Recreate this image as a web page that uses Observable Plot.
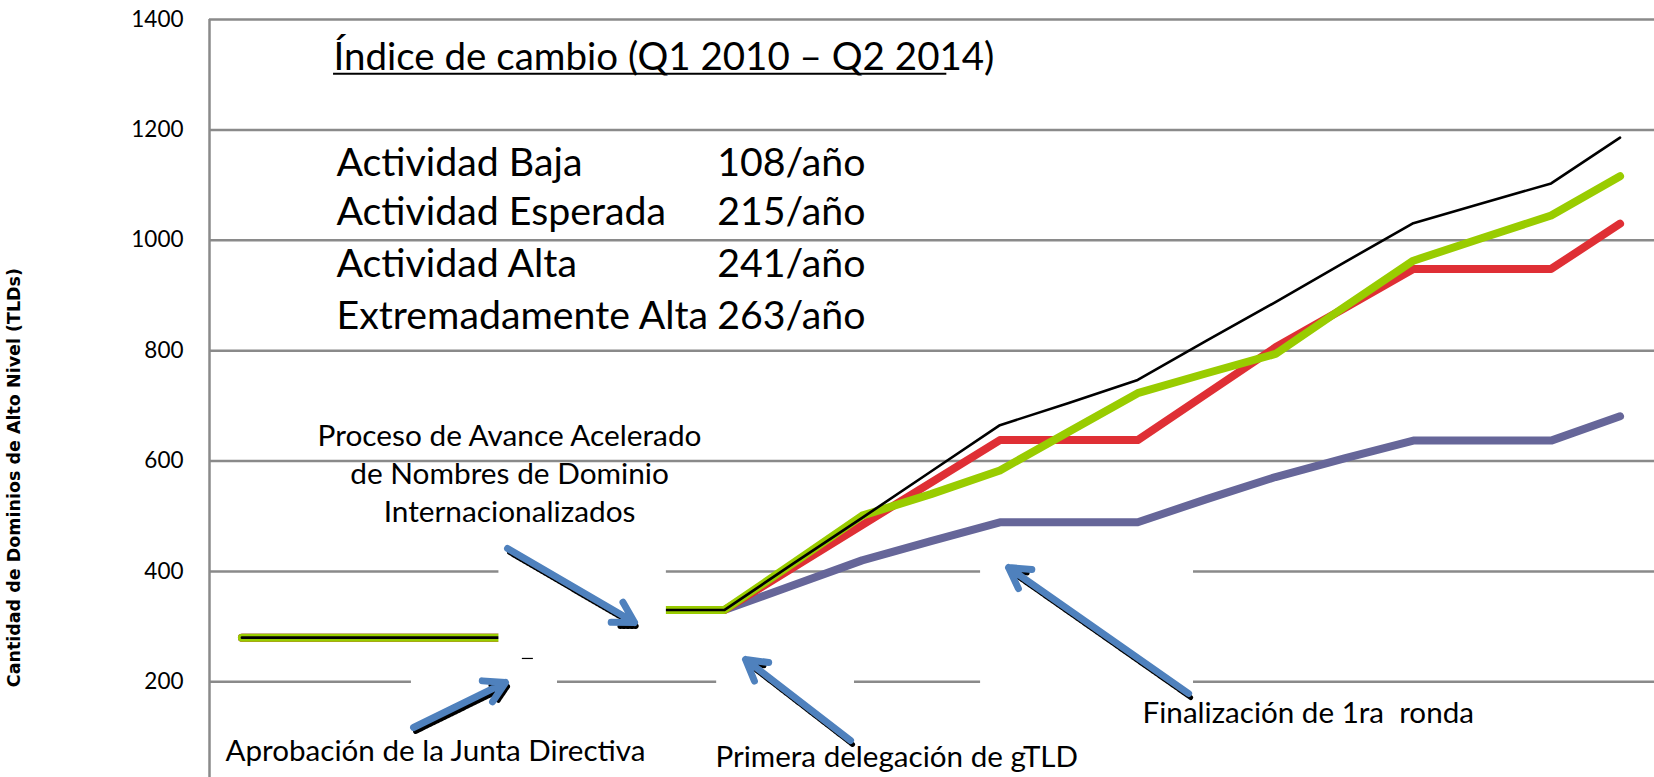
<!DOCTYPE html>
<html>
<head>
<meta charset="utf-8">
<script src="https://cdn.jsdelivr.net/npm/d3@7"></script>
<script src="https://cdn.jsdelivr.net/npm/@observablehq/plot@0.6"></script>
<style>
  html, body { margin: 0; padding: 0; background: #fff; overflow: hidden; }
  #chart svg { display: block; }
</style>
</head>
<body>
<div id="chart"></div>
<script>
// ---- data ----
const quarter = [0, 1, 2, 3, 4, 5, 6, 7, 8, 9, 10, 11, 12, 13, 14, 15, 16, 17, 18, 19, 20];
const actividadBaja       = [280, 280, 280, 280, 280, 305, 330, 330, 375, 420, 455, 489, 489, 489, 531, 571, 605, 637, 637, 637, 681];
const actividadEsperada   = [280, 280, 280, 280, 280, 305, 330, 330, 407, 484, 561, 638, 638, 638, 722, 806, 877, 948, 948, 948, 1030];
const actividadAlta       = [280, 280, 280, 280, 280, 305, 330, 330, 415, 501, 540, 583, 653, 723, 759, 794, 879, 963, 1004, 1045, 1116];
const extremadamenteAlta  = [280, 280, 280, 280, 280, 305, 330, 330, 414, 497, 581, 665, 705, 747, 818, 888, 960, 1031, 1067, 1103, 1186];
const yTicks = [200, 400, 600, 800, 1000, 1200, 1400];

const titleText = "Índice de cambio (Q1 2010 – Q2 2014)";
const rateLabels = ["Actividad Baja", "Actividad Esperada", "Actividad Alta", "Extremadamente Alta"];
const rateValues = ["108/año", "215/año", "241/año", "263/año"];
const yLabel = "Cantidad de Dominios de Alto Nivel (TLDs)";

// annotation anchors, in data units (quarter index, TLD count)
const procesoLines = ["Proceso de Avance Acelerado", "de Nombres de Dominio", "Internacionalizados"];
const procesoY = [628, 559, 489];
const rateRowY = [1117, 1027, 933, 840];
const eventNotes = [
  {text: "Aprobación de la Junta Directiva", q: -0.238, v: 57},
  {text: "Primera delegación de gTLD", q: 6.873, v: 45},
  {text: "Finalización de 1ra  ronda", q: 13.071, v: 126}
];
const arrows = [
  {q1: 3.855, v1: 441.6, q2: 5.698, v2: 307.5},
  {q1: 2.491, v1: 117.2, q2: 3.826, v2: 198.8},
  {q1: 8.833, v1: 93.7, q2: 7.309, v2: 240.5},
  {q1: 13.739, v1: 178.8, q2: 11.126, v2: 407.1}
];
const whiteBoxes = [
  {q1: 3.73, q2: 6.16, v1: 257, v2: 474},
  {q1: 2.46, q2: 4.58, v1: 112, v2: 260},
  {q1: 6.89, q2: 8.89, v1: 85, v2: 275},
  {q1: 10.72, q2: 13.81, v1: 166, v2: 465}
];

// ---- build tables ----
const seriesDefs = [
  {name: "Actividad Baja", values: actividadBaja, color: "#666699", width: 8},
  {name: "Actividad Esperada", values: actividadEsperada, color: "#DF2F35", width: 8},
  {name: "Actividad Alta", values: actividadAlta, color: "#99CC00", width: 8},
  {name: "Extremadamente Alta", values: extremadamenteAlta, color: "#000000", width: 2.6}
];
const seriesMarks = seriesDefs.map(s =>
  Plot.line(quarter.map((q, i) => ({q, v: s.values[i]})), {
    x: "q", y: "v", stroke: s.color, strokeWidth: s.width,
    strokeLinecap: "round", strokeLinejoin: "round"
  })
);
const rateRows = rateLabels.map((l, i) => ({label: l, value: rateValues[i], v: rateRowY[i]}));
const procesoRows = procesoLines.map((t, i) => ({text: t, v: procesoY[i]}));

const font = "Lato, 'Open Sans', sans-serif";
const chart = Plot.plot({
  width: 1654,
  height: 777,
  marginLeft: 209,
  marginRight: 0,
  marginTop: 19,
  marginBottom: 0,
  style: {fontFamily: font, fontSize: "22.5px", background: "#fff", color: "#000", overflow: "visible"},
  x: {domain: [-0.4703, 20.5], axis: null},
  y: {domain: [26.6, 1400], ticks: yTicks, tickSize: 0, tickPadding: 26, tickFormat: d => String(d), label: null},
  marks: [
    Plot.ruleY(yTicks, {stroke: "#8a8a8a", strokeWidth: 2.5}),
    Plot.ruleX([-0.4703], {stroke: "#8a8a8a", strokeWidth: 2.5}),
    ...seriesMarks,
    Plot.rect(whiteBoxes, {x1: "q1", x2: "q2", y1: "v1", y2: "v2", fill: "#fff"}),
    Plot.ruleY([242.3], {x1: 4.07, x2: 4.23, stroke: "#000", strokeWidth: 1.2}),
    Plot.arrow(arrows, {x1: "q1", y1: "v1", x2: "q2", y2: "v2", stroke: "#000", strokeWidth: 5, headLength: 5, strokeDasharray: "2.5 1.5", dx: 2, dy: 4}),
    Plot.arrow(arrows, {x1: "q1", y1: "v1", x2: "q2", y2: "v2", stroke: "#4F81BD", strokeWidth: 7, headLength: 5}),
    Plot.text([titleText], {x: 1.33, y: 1307.7, text: d => d, textAnchor: "start", lineAnchor: "bottom", fontSize: 38.5}),
    Plot.ruleY([1301.7], {x1: 1.33, x2: 10.23, stroke: "#000", strokeWidth: 2}),
    Plot.text(rateRows, {x: 1.373, y: "v", text: "label", textAnchor: "start", lineAnchor: "bottom", fontSize: 39.3}),
    Plot.text(rateRows, {x: 6.898, y: "v", text: "value", textAnchor: "start", lineAnchor: "bottom", fontSize: 39.3}),
    Plot.text(procesoRows, {x: 3.884, y: "v", text: "text", textAnchor: "middle", lineAnchor: "bottom", fontSize: 29.8}),
    Plot.text(eventNotes, {x: "q", y: "v", text: "text", textAnchor: "start", lineAnchor: "bottom", fontSize: 29.6}),
    Plot.text([yLabel], {x: -3.3, y: 570, text: d => d, rotate: -90, textAnchor: "middle", lineAnchor: "middle", fontSize: 17.5, fontWeight: "bold", fontFamily: "'DejaVu Sans', Verdana, sans-serif"})
  ]
});
document.getElementById("chart").appendChild(chart);
</script>
</body>
</html>
